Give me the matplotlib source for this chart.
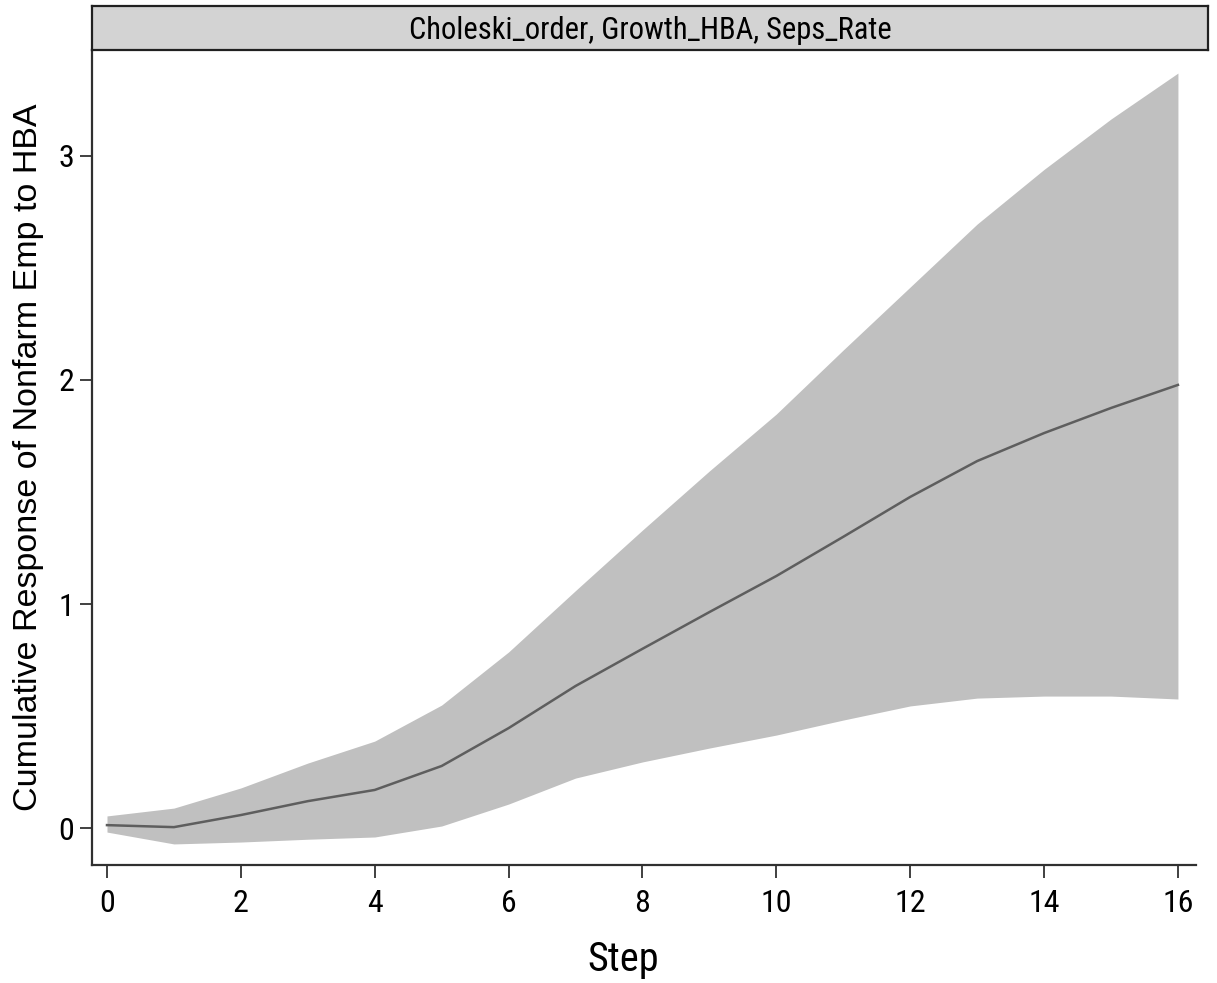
import matplotlib
matplotlib.use("Agg")
import matplotlib.pyplot as plt

steps = list(range(17))
irf = [0.013, 0.004, 0.058, 0.12, 0.17, 0.277, 0.446, 0.634, 0.80, 0.964, 1.125,
       1.30, 1.478, 1.638, 1.763, 1.875, 1.978]
upper = [0.054, 0.089, 0.179, 0.29, 0.388, 0.549, 0.786, 1.06, 1.33, 1.594, 1.848,
         2.134, 2.415, 2.696, 2.94, 3.165, 3.37]
lower = [-0.018, -0.071, -0.0625, -0.05, -0.04, 0.009, 0.107, 0.223, 0.295, 0.357,
         0.415, 0.482, 0.545, 0.58, 0.589, 0.589, 0.576]
xticks = [0, 2, 4, 6, 8, 10, 12, 14, 16]
yticks = [0, 1, 2, 3]
strip_title = "Choleski_order, Growth_HBA, Seps_Rate"
xlabel = "Step"
ylabel = "Cumulative Response of Nonfarm Emp to HBA"

narrow = ['Roboto Condensed', 'Archivo Narrow', 'DejaVu Sans']
regular = ['Liberation Sans', 'DejaVu Sans']

W, H = 1217, 983
fig = plt.figure(figsize=(W / 100, H / 100), dpi=100)
L, R, T, B = 92, 1196, 50, 865
ax = fig.add_axes([L / W, 1 - B / H, (R - L) / W, (B - T) / H])

ax.fill_between(steps, lower, upper, color='#c0c0c0', linewidth=0, zorder=1)
ax.plot(steps, irf, color='#5e5e5e', linewidth=1.8, zorder=2)

ax.set_xlim(-0.224, 16.27)
ax.set_ylim(-0.165, 3.473)
ax.set_xticks(xticks)
ax.set_yticks(yticks)
ax.set_xticklabels([str(v) for v in xticks], family=narrow, fontsize=23)
ax.set_yticklabels([str(v) for v in yticks], family=narrow, fontsize=23)

for s in ['top', 'right']:
    ax.spines[s].set_visible(False)
for s in ['left', 'bottom']:
    ax.spines[s].set_color('#303030')
    ax.spines[s].set_linewidth(1.6)
ax.tick_params(axis='both', direction='out', length=9, width=1.4, color='#404040', labelcolor='black')
ax.tick_params(axis='x', pad=8)
ax.tick_params(axis='y', pad=4)

ax.set_xlabel(xlabel, family=narrow, fontsize=29)
ax.xaxis.set_label_coords(0.481, -0.092)
ax.set_ylabel(ylabel, family=regular, fontsize=24.5, labelpad=10)

# strip title
sT, sB = 6, 50
strip = fig.add_axes([L / W, 1 - sB / H, (1208 - L) / W, (sB - sT) / H])
strip.set_xticks([]); strip.set_yticks([])
strip.set_facecolor('#d3d3d3')
for s in strip.spines.values():
    s.set_color('#202020'); s.set_linewidth(1.6)
strip.text(0.5, 0.45, strip_title, ha='center', va='center', family=narrow, fontsize=22,
           transform=strip.transAxes)

fig.savefig('out.png', dpi=100, facecolor='white')
